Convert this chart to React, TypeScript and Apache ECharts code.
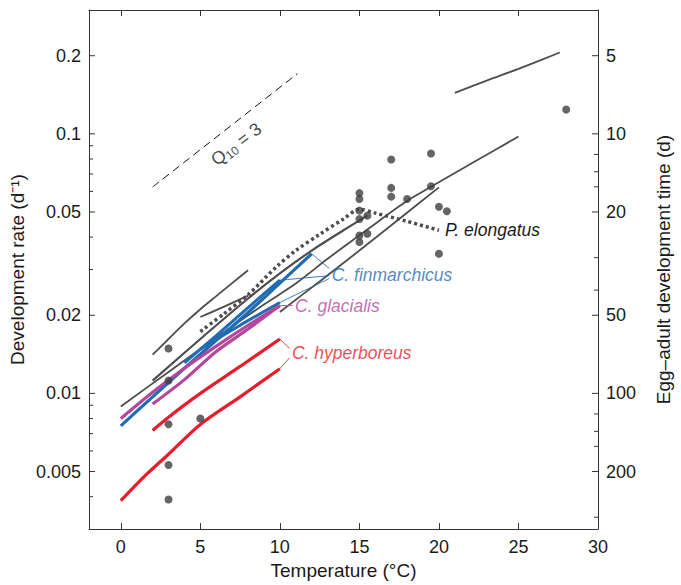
import React, { useEffect, useRef } from 'react';
import * as echarts from 'echarts';

const FONT = "'Liberation Sans', Arial, Helvetica, sans-serif";
const TXT = '#1a1a1a';
const GRAY = '#4d4d4d';
const BLUE = '#1f6cb3';
const PURPLE = '#b3479c';
const RED = '#e51d2c';

const X_MIN = -2;
const X_MAX = 30;
const Y_MIN = 0.003;
const Y_MAX = 0.3;

// Left axis (development rate) ticks
const rateMajor = [0.005, 0.01, 0.02, 0.05, 0.1, 0.2];
const rateMajorLabels = ['0.005', '0.01', '0.02', '0.05', '0.1', '0.2'];
const rateMinor = [0.004, 0.006, 0.007, 0.008, 0.009, 0.03, 0.04, 0.06, 0.07, 0.08, 0.09];
// Right axis (development time, days) ticks
const timeMajor = [5, 10, 20, 50, 100, 200];
const timeMajorLabels = ['5', '10', '20', '50', '100', '200'];
const timeMinor = [12, 14, 16, 30, 40, 120, 140, 160, 300];

// Gray curves (other species)
const grayA_T = [2, 3, 4, 5, 6, 7, 8];
const grayA_R = [0.0141, 0.0162, 0.0186, 0.0211, 0.0237, 0.0266, 0.0298];
const grayB_T = [5, 6.5, 8];
const grayB_R = [0.0197, 0.0216, 0.0238];
const grayC_T = [2, 5, 8, 10, 12, 14, 15.5];
const grayC_R = [0.0112, 0.0162, 0.0232, 0.029, 0.0355, 0.0425, 0.0484];
const grayD_T = [0, 3, 6, 9, 11, 13, 15.5, 18, 19.5, 22.5, 25];
const grayD_R = [0.0089, 0.0121, 0.0164, 0.022, 0.0265, 0.033, 0.0428, 0.0552, 0.0625, 0.0798, 0.0976];
const grayE_T = [10, 12.5, 15, 17.5, 20];
const grayE_R = [0.0206, 0.027, 0.0355, 0.047, 0.0622];
const grayF_T = [21, 23, 25, 27.6];
const grayF_R = [0.1439, 0.1604, 0.178, 0.2057];

// P. elongatus (dotted)
const pel_T = [5, 6.5, 8, 9.8, 11, 12.5, 14, 15, 16, 18, 20];
const pel_R = [0.0173, 0.0203, 0.024, 0.0308, 0.0355, 0.041, 0.047, 0.0512, 0.0495, 0.046, 0.0425];

// C. finmarchicus (blue)
const fin1_T = [0, 2, 4, 6, 8, 10, 12];
const fin1_R = [0.0075, 0.0097, 0.0125, 0.016, 0.0205, 0.0266, 0.0345];
const fin2_T = [4, 6, 8, 10];
const fin2_R = [0.0131, 0.0167, 0.0214, 0.0273];
const fin3_T = [5, 7.5, 10];
const fin3_R = [0.0148, 0.0183, 0.0224];

// C. glacialis (purple)
const gla1_T = [0, 2, 4, 6, 8, 10];
const gla1_R = [0.008, 0.0101, 0.0125, 0.0152, 0.0183, 0.0218];
const gla2_T = [2, 4, 6, 8, 10];
const gla2_R = [0.0091, 0.0113, 0.0145, 0.0177, 0.0218];

// C. hyperboreus (red)
const hyp1_T = [2, 3, 5, 7.5, 10];
const hyp1_R = [0.0072, 0.0081, 0.01, 0.0127, 0.0162];
const hyp2_T = [0, 1.5, 3, 5, 7.5, 10];
const hyp2_R = [0.00386, 0.0048, 0.00583, 0.00759, 0.0097, 0.01245];

// Q10 = 3 reference line
const q10_T = [2, 11.1];
const q10_R = [0.0624, 0.1705];

// Observed points
const dot_T = [3, 3, 3, 3, 3, 5, 15, 15, 15, 15, 15, 15, 15.5, 15.5, 17, 17, 17, 18, 19.5, 19.5, 20, 20.5, 20, 28];
const dot_R = [0.0149, 0.0112, 0.0076, 0.0053, 0.0039, 0.008, 0.0591, 0.0561, 0.0506, 0.047, 0.0406, 0.0383, 0.0484, 0.0412, 0.0796, 0.0619, 0.0573, 0.0561, 0.084, 0.0628, 0.0524, 0.0503, 0.0345, 0.124];

// Label leader lines (from curve ends to labels)
const finLead1 = [[12, 0.0345], [13.1, 0.0303]];
const finLead2 = [[10, 0.0273], [13.1, 0.0284]];
const finLead3 = [[10, 0.0224], [13.1, 0.0277]];
const glaLead = [[10, 0.0218], [10.8, 0.0218]];
const hypLead1 = [[10, 0.0162], [10.6, 0.0149]];
const hypLead2 = [[10, 0.01245], [10.6, 0.0137]];

const zip = (a: number[], b: number[]) => a.map((v, i) => [v, b[i]]);

type Tick = { side: 'left' | 'right'; rate: number; label: string; major: boolean };
const ticks: Tick[] = [
  ...rateMajor.map((r, i) => ({ side: 'left' as const, rate: r, label: rateMajorLabels[i], major: true })),
  ...rateMinor.map((r) => ({ side: 'left' as const, rate: r, label: '', major: false })),
  ...timeMajor.map((t, i) => ({ side: 'right' as const, rate: 1 / t, label: timeMajorLabels[i], major: true })),
  ...timeMinor.map((t) => ({ side: 'right' as const, rate: 1 / t, label: '', major: false })),
];

const lineSeries = (name: string, data: number[][], color: string, width: number, extra: any = {}) => ({
  type: 'line',
  name,
  data,
  symbol: 'none',
  smooth: 0.3,
  lineStyle: { color, width, cap: 'butt', ...(extra.lineStyle || {}) },
  z: extra.z ?? 2,
  silent: true,
  ...(extra.endLabel ? { endLabel: extra.endLabel } : {}),
});

const annot = (text: string, at: number[], color: string, extra: any = {}) => ({
  type: 'scatter',
  data: [at],
  symbol: 'circle',
  symbolSize: 1,
  itemStyle: { color: 'rgba(0,0,0,0)' },
  silent: true,
  z: 6,
  label: {
    show: true,
    position: 'right',
    distance: 2,
    formatter: text,
    color,
    fontFamily: FONT,
    fontSize: 17.5,
    fontStyle: 'italic',
    ...extra,
  },
});

export default function App() {
  const ref = useRef<HTMLDivElement>(null);
  useEffect(() => {
    if (!ref.current) return;
    document.body.style.margin = '0';
    document.body.style.overflow = 'hidden';
    document.documentElement.style.overflow = 'hidden';
    const chart = echarts.init(ref.current, null, { renderer: 'svg', width: 681, height: 585 });
    const axisLine = { show: true, onZero: false, lineStyle: { color: '#333', width: 1 } };
    const option: any = {
      animation: false,
      backgroundColor: '#fff',
      grid: { left: 88, right: 73, top: 10, bottom: 53 },
      xAxis: [
        {
          type: 'value',
          min: X_MIN,
          max: X_MAX,
          position: 'bottom',
          axisLine,
          axisTick: { show: true, inside: true, length: 6, lineStyle: { color: '#333' } },
          axisLabel: { showMinLabel: false, margin: 9, color: TXT, fontFamily: FONT, fontSize: 18 },
          splitLine: { show: false },
          name: 'Temperature (°C)',
          nameLocation: 'middle',
          nameGap: 31,
          nameTextStyle: { color: TXT, fontFamily: FONT, fontSize: 19 },
        },
        {
          type: 'value',
          min: X_MIN,
          max: X_MAX,
          position: 'top',
          axisLine,
          axisTick: { show: true, inside: true, length: 6, lineStyle: { color: '#333' } },
          axisLabel: { show: false },
          splitLine: { show: false },
        },
      ],
      yAxis: [
        {
          type: 'log',
          min: Y_MIN,
          max: Y_MAX,
          position: 'left',
          axisLine,
          axisTick: { show: false },
          axisLabel: { show: false },
          splitLine: { show: false },
          name: 'Development rate (d⁻¹)',
          nameLocation: 'middle',
          nameRotate: 90,
          nameGap: 62,
          nameTextStyle: { color: TXT, fontFamily: FONT, fontSize: 19 },
        },
        {
          type: 'log',
          min: Y_MIN,
          max: Y_MAX,
          position: 'right',
          axisLine,
          axisTick: { show: false },
          axisLabel: { show: false },
          splitLine: { show: false },
          name: 'Egg–adult development time (d)',
          nameLocation: 'middle',
          nameRotate: 90,
          nameGap: 56,
          nameTextStyle: { color: TXT, fontFamily: FONT, fontSize: 19 },
        },
      ],
      series: [
        {
          type: 'custom',
          clip: false,
          silent: true,
          z: 10,
          data: ticks.map((t) => [t.side === 'left' ? X_MIN : X_MAX, t.rate]),
          renderItem: (params: any, api: any) => {
            const t = ticks[params.dataIndex];
            const p = api.coord([api.value(0), api.value(1)]);
            const dir = t.side === 'left' ? 1 : -1;
            const len = t.major ? 6 : 4;
            const children: any[] = [
              {
                type: 'line',
                shape: { x1: p[0], y1: p[1], x2: p[0] + dir * len, y2: p[1] },
                style: { stroke: '#333', lineWidth: 1 },
              },
            ];
            if (t.label) {
              children.push({
                type: 'text',
                style: {
                  text: t.label,
                  x: t.side === 'left' ? p[0] - 8 : p[0] + 8,
                  y: p[1],
                  align: t.side === 'left' ? 'right' : 'left',
                  verticalAlign: 'middle',
                  fill: TXT,
                  font: `18px ${FONT}`,
                },
              });
            }
            return { type: 'group', children };
          },
        },
        lineSeries('Q10', zip(q10_T, q10_R), '#111', 1, { lineStyle: { type: [8, 5] } }),
        lineSeries('grayA', zip(grayA_T, grayA_R), GRAY, 1.8),
        lineSeries('grayB', zip(grayB_T, grayB_R), GRAY, 1.8),
        lineSeries('grayC', zip(grayC_T, grayC_R), GRAY, 2.2),
        lineSeries('grayD', zip(grayD_T, grayD_R), GRAY, 1.8),
        lineSeries('grayE', zip(grayE_T, grayE_R), GRAY, 1.8),
        lineSeries('grayF', zip(grayF_T, grayF_R), GRAY, 1.8),
        lineSeries('P. elongatus', zip(pel_T, pel_R), GRAY, 3.5, {
          lineStyle: { type: [3, 3] },
          endLabel: {
            show: true,
            formatter: 'P. elongatus',
            color: TXT,
            fontFamily: FONT,
            fontSize: 17.5,
            fontStyle: 'italic',
            distance: 6,
          },
        }),
        lineSeries('fin3', zip(fin3_T, fin3_R), BLUE, 3),
        lineSeries('fin2', zip(fin2_T, fin2_R), BLUE, 3),
        lineSeries('fin1', zip(fin1_T, fin1_R), BLUE, 3.2),
        lineSeries('gla1', zip(gla1_T, gla1_R), PURPLE, 3.2, { z: 3 }),
        lineSeries('gla2', zip(gla2_T, gla2_R), PURPLE, 3.2, { z: 3 }),
        lineSeries('hyp1', zip(hyp1_T, hyp1_R), RED, 3.2),
        lineSeries('hyp2', zip(hyp2_T, hyp2_R), RED, 3.2),
        lineSeries('finLead1', finLead1, BLUE, 0.9),
        lineSeries('finLead2', finLead2, BLUE, 0.9),
        lineSeries('finLead3', finLead3, BLUE, 0.9),
        lineSeries('glaLead', glaLead, PURPLE, 0.9),
        lineSeries('hypLead1', hypLead1, RED, 0.9),
        lineSeries('hypLead2', hypLead2, RED, 0.9),
        {
          type: 'scatter',
          data: zip(dot_T, dot_R),
          symbol: 'circle',
          symbolSize: 8,
          itemStyle: { color: '#3f3f3f' },
          silent: true,
          z: 5,
        },
        annot('C. finmarchicus', [13.1, 0.0286], BLUE),
        annot('C. glacialis', [10.8, 0.0218], PURPLE),
        annot('C. hyperboreus', [10.6, 0.0143], RED),
        annot('{q|Q}{s|10}{q| = 3}', [7.26, 0.0912], TXT, {
          position: 'inside',
          rotate: 37,
          align: 'center',
          verticalAlign: 'middle',
          fontStyle: 'normal',
          rich: {
            q: { fontSize: 18, fontFamily: FONT, color: TXT },
            s: { fontSize: 12, fontFamily: FONT, color: TXT, padding: [9, 0, 0, 0] },
          },
        }),
      ],
    };
    chart.setOption(option);
    return () => chart.dispose();
  }, []);
  return <div ref={ref} style={{ width: 681, height: 585, background: '#fff', overflow: 'hidden' }} />;
}
